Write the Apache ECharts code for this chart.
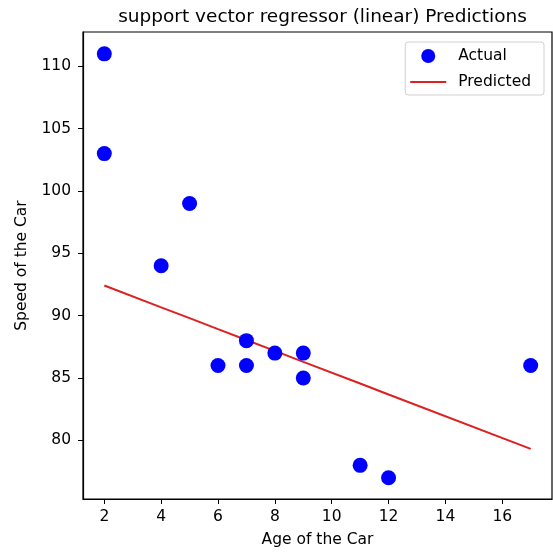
<!DOCTYPE html>
<html>
<head>
<meta charset="utf-8">
<script src="https://cdn.jsdelivr.net/npm/echarts@6/dist/echarts.min.js"></script>
<style>html,body{margin:0;padding:0;background:#fff}#c{width:553px;height:553px}</style>
</head>
<body>
<div id="c"></div>
<script>
const ageActual = [5, 7, 8, 7, 2, 17, 2, 9, 4, 11, 12, 9, 6];
const speedActual = [99, 86, 87, 88, 111, 86, 103, 87, 94, 78, 77, 85, 86];
const agePred = [2, 4, 5, 6, 7, 8, 9, 11, 12, 17];
const speedPred = [92.42, 90.67, 89.80, 88.92, 88.05, 87.18, 86.30, 84.56, 83.68, 79.32];
const xTicks = [2, 4, 6, 8, 10, 12, 14, 16];
const yTicks = [80, 85, 90, 95, 100, 105, 110];

const FONT = 'DejaVu Sans';
const RED = '#dd2020';
const chart = echarts.init(document.getElementById('c'), null, {renderer: 'canvas'});
chart.setOption({
  animation: false,
  backgroundColor: '#fff',
  title: {
    text: 'support vector regressor (linear) Predictions',
    left: 317.5, top: 3, textAlign: 'center',
    textStyle: {fontFamily: FONT, fontSize: 18.5, fontWeight: 'normal', color: '#000'}
  },
  grid: {left: 83, right: 1, top: 32, bottom: 54, show: true, borderColor: '#000', borderWidth: 1.2, containLabel: false},
  legend: {
    orient: 'vertical', right: 9, top: 42,
    padding: [6, 13, 5, 5],
    itemWidth: 36, itemHeight: 14, itemGap: 10,
    borderColor: '#d0d0d0', borderWidth: 1, borderRadius: 3,
    textStyle: {fontFamily: FONT, fontSize: 15.5, color: '#000', padding: [0, 0, 0, 7]},
    data: [
      {name: 'Actual', icon: 'circle', itemStyle: {color: '#0000ff', opacity: 1}},
      {name: 'Predicted', icon: 'path://M0,0H36V2.2H0Z', itemStyle: {color: RED, opacity: 1}}
    ]
  },
  xAxis: {
    type: 'value', min: 1.25, max: 17.75,
    name: 'Age of the Car', nameLocation: 'middle', nameGap: 33,
    nameTextStyle: {fontFamily: FONT, fontSize: 15.5, color: '#000'},
    axisLine: {show: true, onZero: false, lineStyle: {color: '#000', width: 1.2}},
    axisTick: {show: true, length: 5, customValues: xTicks, lineStyle: {color: '#000'}},
    axisLabel: {customValues: xTicks, margin: 10, fontFamily: FONT, fontSize: 15.5, color: '#000'},
    splitLine: {show: false}
  },
  yAxis: {
    type: 'value', min: 75.3, max: 112.75,
    name: 'Speed of the Car', nameLocation: 'middle', nameGap: 53,
    nameTextStyle: {fontFamily: FONT, fontSize: 15.5, color: '#000'},
    axisLine: {show: true, onZero: false, lineStyle: {color: '#000', width: 1.2}},
    axisTick: {show: true, length: 5, customValues: yTicks, lineStyle: {color: '#000'}},
    axisLabel: {customValues: yTicks, margin: 12, fontFamily: FONT, fontSize: 15.5, color: '#000'},
    splitLine: {show: false}
  },
  series: [
    {
      name: 'Actual', type: 'scatter', symbol: 'circle', symbolSize: 15,
      itemStyle: {color: '#0000ff', opacity: 1},
      data: ageActual.map((a, i) => [a, speedActual[i]]),
      z: 3
    },
    {
      name: 'Predicted', type: 'line', symbol: 'none', showSymbol: false,
      lineStyle: {color: RED, width: 2},
      itemStyle: {color: RED},
      data: agePred.map((a, i) => [a, speedPred[i]]),
      z: 2
    }
  ]
});
</script>
</body>
</html>
